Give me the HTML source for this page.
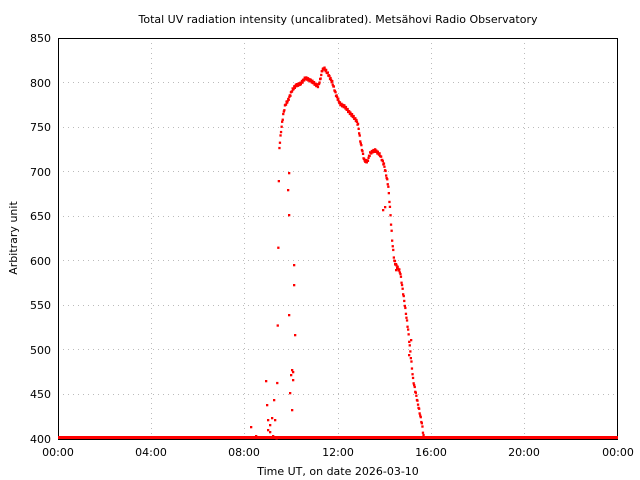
<!DOCTYPE html>
<html><head><meta charset="utf-8"><style>
body{margin:0;background:#fff;}
svg{display:block;font-family:"DejaVu Sans","Liberation Sans",sans-serif;}
</style></head><body>
<svg id="s" width="640" height="480" xmlns="http://www.w3.org/2000/svg">
<rect width="640" height="480" fill="#fff"/>
<g stroke="#bbb" stroke-width="1" stroke-dasharray="1,4">
<line x1="151.5" y1="38" x2="151.5" y2="439"/>
<line x1="244.5" y1="38" x2="244.5" y2="439"/>
<line x1="338.5" y1="38" x2="338.5" y2="439"/>
<line x1="431.5" y1="38" x2="431.5" y2="439"/>
<line x1="524.5" y1="38" x2="524.5" y2="439"/>
<line x1="58" y1="394.5" x2="618" y2="394.5"/>
<line x1="58" y1="349.5" x2="618" y2="349.5"/>
<line x1="58" y1="305.5" x2="618" y2="305.5"/>
<line x1="58" y1="260.5" x2="618" y2="260.5"/>
<line x1="58" y1="216.5" x2="618" y2="216.5"/>
<line x1="58" y1="171.5" x2="618" y2="171.5"/>
<line x1="58" y1="127.5" x2="618" y2="127.5"/>
<line x1="58" y1="82.5" x2="618" y2="82.5"/>
</g>
<rect x="58.5" y="38.5" width="559" height="401" fill="none" stroke="#000" stroke-width="1"/>
<g id="pts" fill="#f00"></g>
<rect x="58" y="436" width="560" height="3" fill="#f00"/>
<g font-size="11" fill="#000" text-anchor="end">
<text x="51" y="443">400</text><text x="51" y="398">450</text><text x="51" y="354">500</text>
<text x="51" y="309">550</text><text x="51" y="265">600</text><text x="51" y="220">650</text>
<text x="51" y="176">700</text><text x="51" y="131">750</text><text x="51" y="87">800</text>
<text x="51" y="42">850</text>
</g>
<g font-size="11" fill="#000" text-anchor="middle">
<text x="58" y="456">00:00</text><text x="151" y="456">04:00</text><text x="244" y="456">08:00</text>
<text x="338" y="456">12:00</text><text x="431" y="456">16:00</text><text x="524" y="456">20:00</text>
<text x="618" y="456">00:00</text>
<text x="338" y="475">Time UT, on date 2026-03-10</text>
<text x="338" y="23">Total UV radiation intensity (uncalibrated). Metsähovi Radio Observatory</text>
<text transform="translate(17,238) rotate(-90)">Arbitrary unit</text>
</g>
</svg>
<script>
var k=[[276.5,437],[277.5,340],[278.3,225],[279,150],[281,130],[283,115],[285,105],[288,100],[292,90],[296,85],[300,84],[305,78],[310,80],[315,84],[318,86],[320,80],[322,70],[324,68],[328,74],[332,82],[336,95],[340,104],[344,106],[350,113],[356,120],[358,125],[360,140],[364,160],[367,162],[370,153],[375,150],[380,155],[384,165],[388,185],[390,210],[392,240],[394,260],[396,265],[400,272],[404,300],[408,330],[410,350],[413,380],[416,395],[419,410],[422,425],[423.5,437]];
var o=[[266,381],[268,420],[272,418],[275,420],[289,173],[288,190],[289,215],[289,315],[290,393],[291,375],[292,370],[293,380],[294,265],[295,335],[294,285],[292,410],[293,372],[251,427],[256,436],[267,405],[270,425],[274,400],[383,210],[385,207],[395,264],[396,270],[409,355],[411,340],[268,430],[270,432],[273,436]];
var g=document.getElementById('pts'),h='';
function add(x,y){h+='<rect x="'+(x-1).toFixed(1)+'" y="'+(y-1).toFixed(1)+'" width="2.3" height="2.3"/>';}
for(var x=276.5;x<=423.5;x+=0.55){
 for(var i=0;i<k.length-1;i++){if(x>=k[i][0]&&x<=k[i+1][0]){var t=(x-k[i][0])/(k[i+1][0]-k[i][0]);var y=k[i][1]+(k[i+1][1]-k[i][1])*t;y+=Math.sin(x*7.3)*1.2;add(x,y);break;}}
}
o.forEach(function(p){add(p[0],p[1]);});
g.innerHTML=h;
</script>
</body></html>
